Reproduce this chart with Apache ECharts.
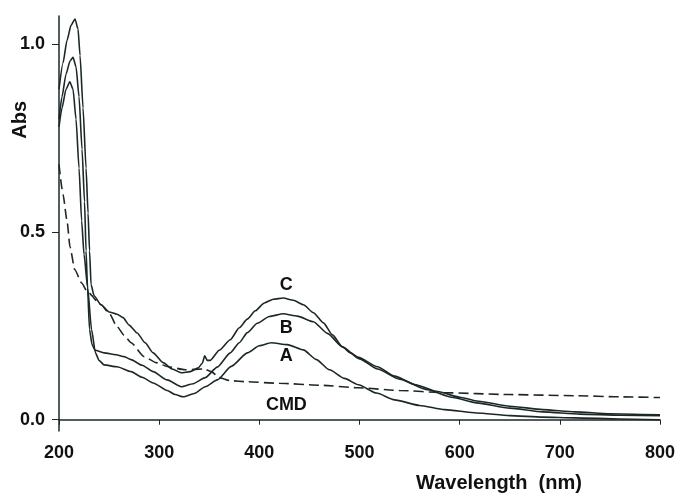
<!DOCTYPE html>
<html>
<head>
<meta charset="utf-8">
<script src="https://cdn.jsdelivr.net/npm/echarts@6/dist/echarts.min.js"></script>
<style>
html,body{margin:0;padding:0;background:#fff;}
#chart{width:678px;height:494px;}
</style>
</head>
<body>
<div id="chart"></div>
<script>
// Wavelength (nm) / absorbance pairs
const curveC = [[200,0.88],[204,0.95],[208,1.01],[212,1.05],[216,1.067],[219,1.04],[221,0.97],[224,0.83],[227,0.67],[229,0.55],[230.5,0.45],[232,0.36],[235,0.33],[242,0.306],[250,0.287],[258,0.281],[264,0.272],[270,0.252],[278,0.231],[286,0.205],[294,0.178],[304,0.152],[313,0.135],[322,0.125],[331,0.128],[339,0.138],[343,0.15],[345.5,0.17],[348,0.158],[351,0.158],[360,0.185],[371,0.213],[380,0.245],[388,0.268],[396,0.29],[405,0.311],[414,0.321],[424,0.324],[434,0.318],[444,0.306],[454,0.285],[464,0.258],[473,0.226],[483,0.194],[491,0.178],[499,0.166],[518,0.141],[535,0.116],[555,0.094],[578,0.075],[600,0.06],[617,0.05],[650,0.036],[683,0.027],[715,0.021],[750,0.016],[800,0.013]];
const curveB = [[200,0.80],[203,0.86],[207,0.92],[211,0.955],[214,0.965],[217,0.94],[220,0.86],[223,0.72],[225.5,0.58],[227,0.45],[228.5,0.35],[230.5,0.24],[233,0.2],[236,0.185],[245,0.178],[257,0.173],[265,0.168],[272,0.16],[283,0.145],[294,0.128],[308,0.106],[322,0.088],[334,0.096],[346,0.112],[358,0.14],[371,0.178],[380,0.205],[388,0.232],[398,0.257],[410,0.275],[424,0.282],[438,0.276],[454,0.261],[468,0.23],[483,0.194],[500,0.162],[518,0.135],[540,0.108],[568,0.08],[592,0.06],[617,0.045],[650,0.031],[683,0.021],[720,0.015],[760,0.012],[800,0.011]];
const curveA = [[200,0.78],[203,0.83],[207,0.88],[210.8,0.9],[214,0.88],[217,0.8],[220,0.67],[222.6,0.53],[225,0.44],[228.5,0.354],[232.5,0.24],[236.4,0.178],[240,0.158],[245,0.146],[258,0.141],[272,0.128],[283,0.113],[294,0.098],[308,0.078],[316,0.067],[324,0.061],[335,0.07],[346,0.088],[358,0.106],[372,0.142],[388,0.178],[400,0.197],[412,0.205],[428,0.2],[444,0.186],[457,0.16],[470,0.133],[485,0.11],[499,0.093],[517,0.071],[535,0.053],[560,0.038],[585,0.027],[617,0.018],[650,0.011],[683,0.007],[715,0.005],[760,0.002],[800,0.0]];
const curveCMD = [[200,0.68],[204,0.6],[208,0.53],[211,0.46],[215.7,0.40],[222.6,0.364],[228.5,0.34],[242,0.306],[250,0.284],[258,0.248],[265,0.225],[272,0.205],[285,0.168],[297,0.152],[309,0.141],[326,0.133],[345,0.135],[352,0.128],[360,0.112],[371,0.104],[388,0.101],[420,0.097],[460,0.092],[499,0.085],[540,0.078],[584,0.072],[650,0.067],[715,0.064],[760,0.061],[800,0.059]];
const yTicks = [0, 0.5, 1.0];
const yTickLabels = ['0.0', '0.5', '1.0'];
const curveNames = ['A', 'B', 'C', 'CMD'];
const labelSpots = { C: [427, 0.359], B: [427, 0.245], A: [427, 0.170], CMD: [427, 0.040] };

const FONT = '"Liberation Sans", Arial, Helvetica, sans-serif';
const INK = '#1c2828';

function lineSeries(name, data, dashed) {
  return {
    name: name,
    type: 'line',
    data: data,
    showSymbol: false,
    smooth: 0.2,
    smoothMonotone: 'x',
    silent: true,
    lineStyle: { color: INK, width: 1.6, type: dashed ? [10, 5] : 'solid' },
    markPoint: {
      symbol: 'circle',
      symbolSize: 0,
      silent: true,
      data: [{
        coord: labelSpots[name],
        label: {
          show: true, formatter: name, position: 'inside',
          fontFamily: FONT, fontWeight: 'bold', fontSize: 18, color: '#111'
        }
      }]
    }
  };
}

const chart = echarts.init(document.getElementById('chart'), null, { renderer: 'canvas' });
chart.setOption({
  animation: false,
  backgroundColor: '#fff',
  grid: { left: 59, right: 9, top: 16, bottom: 63, containLabel: false },
  xAxis: {
    type: 'value', min: 200, max: 800, interval: 100,
    axisLine: { show: true, lineStyle: { color: INK, width: 1.5 } },
    axisTick: { show: true, length: 5, lineStyle: { color: INK, width: 1 } },
    axisLabel: { margin: 13, fontFamily: FONT, fontWeight: 'bold', fontSize: 18, color: '#111' },
    splitLine: { show: false }
  },
  yAxis: {
    type: 'value', min: -0.03, max: 1.075,
    axisLine: { show: true, lineStyle: { color: INK, width: 1.5 } },
    axisTick: { show: true, length: 7, lineStyle: { color: INK, width: 1 }, customValues: yTicks },
    axisLabel: {
      margin: 14, fontFamily: FONT, fontWeight: 'bold', fontSize: 18, color: '#111',
      customValues: yTicks,
      formatter: function (v) { const i = yTicks.findIndex(t => Math.abs(t - v) < 1e-6); return i >= 0 ? yTickLabels[i] : ''; }
    },
    splitLine: { show: false }
  },
  graphic: [
    { type: 'text', left: 10, top: 101, rotation: Math.PI / 2,
      style: { text: 'Abs', font: 'bold 20px ' + FONT, fill: '#111' } },
    { type: 'text', left: 416, top: 473,
      style: { text: 'Wavelength  (nm)', font: 'bold 20px ' + FONT, fill: '#111' } }
  ],
  series: [
    lineSeries(curveNames[0], curveA, false),
    lineSeries(curveNames[1], curveB, false),
    lineSeries(curveNames[2], curveC, false),
    lineSeries(curveNames[3], curveCMD, true)
  ]
});
</script>
</body>
</html>
